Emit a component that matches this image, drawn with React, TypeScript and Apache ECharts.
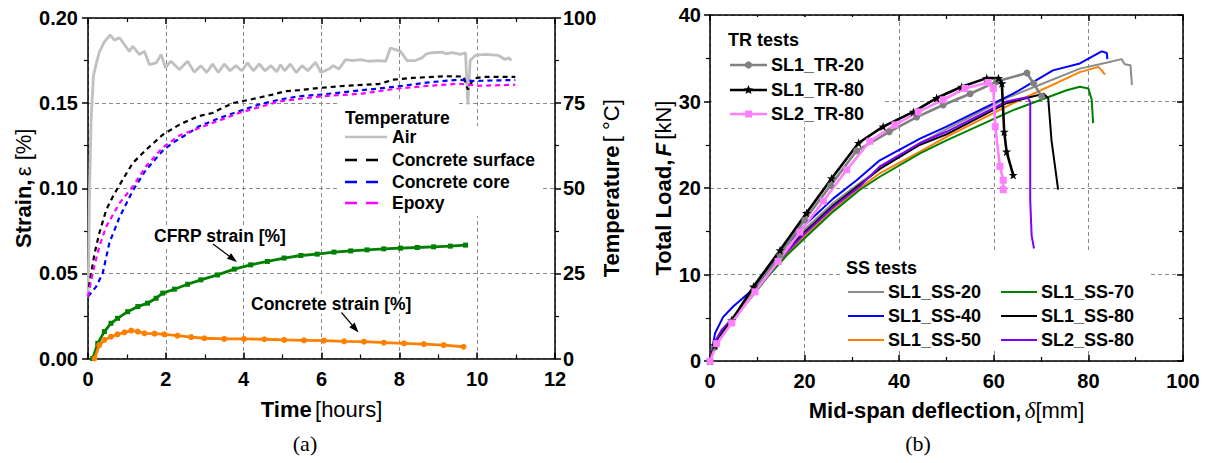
import React, { useEffect, useRef } from "react";
import * as echarts from "echarts";

const FONT = "'Liberation Sans', Arial, Helvetica, sans-serif";
const SERIF = "'Liberation Serif', 'Times New Roman', serif";

// ---------------- Panel (a) ----------------
const timeAxis = { min: 0, max: 12, interval: 2 };
const strainAxis = { min: 0, max: 0.2, interval: 0.05 };
const tempAxis = { min: 0, max: 100, interval: 25 };

// [hours, °C]
const airTemp = [
  [0, 18], [0.02, 30], [0.04, 50], [0.08, 70], [0.14, 83], [0.22, 87], [0.29, 90], [0.42, 93],
  [0.57, 95], [0.68, 93.5], [0.81, 94.2], [0.95, 92], [1.06, 90.2], [1.15, 91.7], [1.32, 89.3],
  [1.45, 90.2], [1.58, 86.3], [1.75, 86.8], [1.88, 89.3], [1.99, 85.4], [2.13, 87.3], [2.35, 84.9],
  [2.56, 87.3], [2.73, 84.1], [2.9, 86], [3.05, 84], [3.2, 86.5], [3.35, 84], [3.5, 86.5],
  [3.65, 84.5], [3.8, 86], [3.95, 84.5], [4.1, 86.8], [4.25, 84.5], [4.4, 86.5], [4.55, 84.5],
  [4.7, 86], [4.85, 84.2], [4.95, 86.3], [5.05, 84.5], [5.2, 86.5], [5.35, 84], [5.5, 86],
  [5.65, 84.5], [5.85, 87], [5.98, 84], [6.19, 85], [6.3, 86], [6.45, 85], [6.62, 87.8],
  [6.8, 87.5], [7.0, 87.8], [7.2, 87.3], [7.47, 87.5], [7.65, 87.3], [7.77, 91.2], [7.9, 90.7],
  [8.03, 90.2], [8.2, 87.5], [8.41, 87.5], [8.58, 88.3], [8.7, 89.5], [8.84, 89.8], [9.1, 90],
  [9.2, 89.5], [9.35, 89.8], [9.57, 89.3], [9.7, 89.8], [9.76, 74.6], [9.82, 87.5], [9.95, 89],
  [10.2, 89.3], [10.55, 89], [10.72, 87.8], [10.81, 88.3], [10.88, 87.5],
];
const surfaceTemp = [
  [0.02, 21], [0.17, 30.9], [0.29, 36.8], [0.47, 43.7], [0.64, 47.6], [0.89, 52.5], [1.15, 57.4],
  [1.49, 61.3], [1.92, 65.7], [2.35, 68.7], [2.82, 71.1], [3.2, 72.1], [3.37, 73.1], [3.72, 75],
  [4.23, 76.2], [4.74, 77.5], [5.08, 78.5], [5.42, 78.8], [5.98, 79.5], [6.62, 80.1], [7.47, 80.6],
  [7.86, 81.9], [8.33, 82.4], [9.18, 82.9], [9.65, 82.8], [9.76, 79], [9.91, 82.3], [10.21, 82.7],
  [10.98, 82.7],
];
const coreTemp = [
  [0, 18.2], [0.21, 21.1], [0.38, 25.1], [0.55, 34], [0.81, 41.5], [1.15, 49.3], [1.49, 55.4],
  [1.92, 61], [2.17, 63.3], [2.52, 65.7], [2.86, 68.2], [3.37, 70.6], [3.88, 72.6], [4.4, 74.6],
  [4.91, 76], [5.42, 77], [5.98, 77.5], [7.05, 78.8], [7.9, 79.8], [8.76, 81.1], [9.53, 81.9],
  [9.87, 81.5], [10.98, 81.8],
];
const epoxyTemp = [
  [0, 18.2], [0.12, 25.1], [0.29, 32.9], [0.47, 38.8], [0.81, 45.6], [1.15, 50.5], [1.49, 56.4],
  [1.92, 62], [2.35, 65.5], [2.86, 67.7], [3.88, 72.1], [4.91, 75.5], [5.98, 77], [7.05, 77.8],
  [7.9, 79.2], [8.76, 80.1], [9.53, 80.7], [10.04, 80.1], [10.98, 80.4],
];
// [hours, strain %]
const cfrpStrain = [
  [0.12, 0], [0.25, 0.0089], [0.42, 0.0158], [0.59, 0.0207], [0.76, 0.0236], [1.02, 0.0275],
  [1.28, 0.0305], [1.53, 0.0325], [1.75, 0.0354], [1.92, 0.0384], [2.22, 0.0407], [2.56, 0.0436],
  [2.9, 0.0462], [3.33, 0.0491], [3.76, 0.0525], [4.18, 0.055], [4.61, 0.057], [5.04, 0.059],
  [5.47, 0.0605], [5.89, 0.0613], [6.32, 0.0625], [6.75, 0.0632], [7.17, 0.0638], [7.6, 0.0644],
  [8.03, 0.0648], [8.46, 0.0652], [8.88, 0.0656], [9.31, 0.066], [9.7, 0.0666],
];
const concreteStrain = [
  [0.17, 0], [0.29, 0.0079], [0.42, 0.0109], [0.59, 0.0128], [0.76, 0.0142], [0.94, 0.0154],
  [1.11, 0.0164], [1.28, 0.0158], [1.45, 0.0148], [1.71, 0.0146], [1.96, 0.0142], [2.3, 0.0134],
  [2.65, 0.0126], [2.99, 0.0119], [3.5, 0.0115], [4.01, 0.0115], [4.53, 0.0113], [5.04, 0.0109],
  [5.55, 0.0107], [6.06, 0.0105], [6.58, 0.0101], [7.09, 0.0099], [7.6, 0.0093], [8.12, 0.0089],
  [8.63, 0.0085], [9.14, 0.0079], [9.65, 0.0069],
];

// ---------------- Panel (b) ----------------
const deflAxis = { min: 0, max: 100, interval: 20 };
const loadAxis = { min: 0, max: 40, interval: 10 };

// [mm, kN]
const sl1Tr20 = [
  [0, 0], [1, 1.6], [4.6, 4.6], [9.5, 8.3], [14.8, 12.3], [20, 16.3], [25.5, 20.3], [31, 24.3],
  [37.9, 26.5], [43.7, 28.2], [49.3, 29.6], [55, 30.9], [60.6, 32.3], [67, 33.3], [68.4, 32.1],
  [70.1, 30.6],
];
const sl1Tr80 = [
  [0, 0], [1, 1.8], [4.6, 4.7], [9.2, 8.6], [14.8, 12.8], [20.4, 17.1], [25.7, 21.1], [31.4, 25.2],
  [36.6, 27.1], [43, 28.8], [47.9, 30.4], [53.2, 31.7], [58.5, 32.7], [61, 32.7], [61.7, 32.1],
  [62.2, 26.5], [62.7, 24.2], [64.1, 21.5],
];
const sl2Tr80 = [
  [0, 0], [1.4, 2], [4.6, 4.4], [9.5, 8], [14.4, 11.5], [19, 14.9], [24, 18.5], [28.9, 22.1],
  [33.8, 25.4], [39.1, 27.3], [44, 28.8], [49.3, 30.2], [53.9, 31.5], [58.8, 32.2], [59.9, 31.5],
  [60.3, 27.1], [61.3, 22.5], [62, 20.9], [62, 19.8],
];
const sl1Ss20 = [
  [0, 0], [1, 2], [2.5, 3.6], [5, 5.2], [8.5, 7.6], [12, 10.1], [16.2, 12.9], [20.4, 15.4],
  [26.1, 18.3], [31.7, 20.6], [38, 23], [44.4, 25.2], [50, 26.8], [55, 28.2], [62.7, 30.4],
  [70, 32], [78.2, 33.8], [84, 34.5], [87, 34.9], [87.7, 34.3], [88.9, 34.2], [89.2, 31.9],
];
const sl1Ss40 = [
  [0, 0], [1.06, 3.2], [2.8, 5.1], [4.9, 6.3], [8.5, 8.0], [12, 10.5], [16.2, 13.4], [20.4, 15.9],
  [26.1, 18.8], [31, 20.9], [35.9, 23.2], [44.4, 25.7], [50, 27.1], [64.1, 30.9], [72.5, 33.6],
  [78.2, 34.4], [82.8, 35.8], [83.9, 35.6], [84, 34.9],
];
const sl1Ss50 = [
  [0, 0], [0.8, 2], [2.1, 3.2], [4.5, 4.6], [8.5, 7.2], [12, 9.7], [16.2, 12.4], [20.4, 14.6],
  [26.1, 17.6], [31.7, 20], [35.9, 21.7], [44.4, 24.2], [50, 25.9], [64.1, 29.8], [78.2, 33.4],
  [82.1, 34], [82.8, 33.6], [83.5, 33.1],
];
const sl1Ss70 = [
  [0, 0], [1, 1.8], [2.5, 3.3], [5, 4.9], [8.5, 7.2], [12, 9.6], [16.2, 12.2], [20.4, 14.4],
  [26.1, 17.3], [31.7, 19.8], [35.9, 21.3], [44.4, 24], [50, 25.5], [64.1, 29], [75.4, 31.3],
  [78.2, 31.7], [80, 31.5], [80.7, 30.2], [81, 27.5],
];
const sl1Ss80 = [
  [0, 0], [1, 2], [2.5, 3.5], [4.6, 4.7], [8.5, 7.5], [12, 10], [16.2, 12.8], [20.4, 15.1],
  [26.1, 18], [31.7, 20.4], [35.9, 22.2], [44.4, 25], [50, 26.2], [62.7, 29.8], [70.5, 30.9],
  [71.5, 30.4], [72.2, 25.5], [73.6, 19.8],
];
const sl2Ss80 = [
  [0, 0], [1, 2.2], [2.5, 3.6], [5, 5], [8.5, 7.4], [12, 10], [16.2, 12.6], [20.4, 14.9],
  [26.1, 17.8], [31.7, 20.2], [35.9, 22.5], [44.4, 25.2], [50, 26.5], [62.7, 30], [67, 30.5],
  [67.7, 30], [67.7, 18.6], [68, 14.5], [68.5, 13],
];

const STAR = "path://M0,-10 L2.35,-3.24 L9.51,-3.09 L3.8,1.24 L5.88,8.09 L0,4 L-5.88,8.09 L-3.8,1.24 L-9.51,-3.09 L-2.35,-3.24 Z";

const tempSeries = [
  { name: "Air", data: airTemp, color: "#c0c0c0", dashed: false },
  { name: "Concrete surface", data: surfaceTemp, color: "#000000", dashed: true },
  { name: "Concrete core", data: coreTemp, color: "#0000ff", dashed: true },
  { name: "Epoxy", data: epoxyTemp, color: "#ff00ff", dashed: true },
];
const trSeries = [
  { name: "SL1_TR-20", data: sl1Tr20, color: "#808080", symbol: "circle" },
  { name: "SL1_TR-80", data: sl1Tr80, color: "#000000", symbol: STAR },
  { name: "SL2_TR-80", data: sl2Tr80, color: "#ff80ff", symbol: "rect" },
];
const ssSeries = [
  { name: "SL1_SS-20", data: sl1Ss20, color: "#8c8c8c" },
  { name: "SL1_SS-40", data: sl1Ss40, color: "#0000ff" },
  { name: "SL1_SS-50", data: sl1Ss50, color: "#ff8000" },
  { name: "SL1_SS-70", data: sl1Ss70, color: "#008000" },
  { name: "SL1_SS-80", data: sl1Ss80, color: "#000000" },
  { name: "SL2_SS-80", data: sl2Ss80, color: "#8000ff" },
];

const tickLabel = { fontFamily: FONT, fontWeight: "bold" as const, fontSize: 20, color: "#000" };
const nameRich = {
  b: { fontFamily: FONT, fontWeight: "bold", fontSize: 22, color: "#000" },
  n: { fontFamily: FONT, fontWeight: "normal", fontSize: 22, color: "#000" },
  bi: { fontFamily: FONT, fontWeight: "bold", fontStyle: "italic", fontSize: 22, color: "#000" },
  i: { fontFamily: SERIF, fontStyle: "italic", fontSize: 23, color: "#000" },
};
const axisLine = { show: true, onZero: false, lineStyle: { color: "#000", width: 1.5 } };
const splitDash = { show: true, lineStyle: { color: "#8a8a8a", width: 1, type: [4, 3] } };

function xAx(grid: number, r: any, pos: string, extra: any) {
  return {
    type: "value", gridIndex: grid, min: r.min, max: r.max, interval: r.interval, position: pos,
    axisLine, axisTick: { show: true, inside: true, length: 6, lineStyle: { color: "#000", width: 1.5 } },
    minorTick: { show: true, splitNumber: 2, length: 4, lineStyle: { color: "#000", width: 1.2 } },
    axisLabel: { ...tickLabel, margin: 10 }, splitLine: splitDash, ...extra,
  };
}
function yAx(grid: number, r: any, pos: string, inside: boolean, extra: any) {
  return {
    type: "value", gridIndex: grid, min: r.min, max: r.max, interval: r.interval, position: pos,
    axisLine, axisTick: { show: true, inside, length: 6, lineStyle: { color: "#000", width: 1.5 } },
    minorTick: { show: true, splitNumber: 2, length: 4, lineStyle: { color: "#000", width: 1.2 } },
    axisLabel: { ...tickLabel, margin: 9 }, splitLine: splitDash, ...extra,
  };
}

function arrow(x1: number, y1: number, x2: number, y2: number) {
  const dx = x2 - x1, dy = y2 - y1;
  const L = Math.sqrt(dx * dx + dy * dy);
  const ux = dx / L, uy = dy / L;
  const bx = x2 - ux * 10, by = y2 - uy * 10;
  const nx = -uy, ny = ux;
  return [
    { type: "line", z: 20, shape: { x1, y1, x2: bx, y2: by }, style: { stroke: "#000", lineWidth: 1.2 } },
    {
      type: "polygon", z: 20,
      shape: { points: [[x2, y2], [bx + nx * 3.5, by + ny * 3.5], [bx - nx * 3.5, by - ny * 3.5]] },
      style: { fill: "#000" },
    },
  ];
}

function starPoints(cx: number, cy: number, R: number, r: number) {
  const pts: number[][] = [];
  for (let k = 0; k < 10; k++) {
    const a = -Math.PI / 2 + (k * Math.PI) / 5;
    const rad = k % 2 === 0 ? R : r;
    pts.push([cx + rad * Math.cos(a), cy + rad * Math.sin(a)]);
  }
  return pts;
}

function txt(x: number, y: number, text: string, font: string, extra: any = {}) {
  return {
    type: "text", z: 20, x, y,
    style: { text, font, fill: "#000", textAlign: "left", textVerticalAlign: "middle", ...extra },
  };
}

function buildOption() {
  const series: any[] = [];
  tempSeries.forEach((s) => {
    series.push({
      type: "line", name: s.name, xAxisIndex: 0, yAxisIndex: 1, data: s.data, showSymbol: false,
      symbol: "none", color: s.color, z: 3,
      lineStyle: { color: s.color, width: s.dashed ? 2.2 : 2.8, type: s.dashed ? [5, 4] : "solid" },
    });
  });
  series.push({
    type: "line", name: "CFRP strain [%]", xAxisIndex: 0, yAxisIndex: 0, data: cfrpStrain,
    symbol: "rect", symbolSize: 5, color: "#008000", z: 4,
    lineStyle: { color: "#008000", width: 2.8 }, itemStyle: { color: "#008000" },
  });
  series.push({
    type: "line", name: "Concrete strain [%]", xAxisIndex: 0, yAxisIndex: 0, data: concreteStrain,
    symbol: "circle", symbolSize: 6, color: "#ff8000", z: 4,
    lineStyle: { color: "#ff8000", width: 2.8 }, itemStyle: { color: "#ff8000" },
  });
  ssSeries.forEach((s) => {
    series.push({
      type: "line", name: s.name, xAxisIndex: 2, yAxisIndex: 2, data: s.data, showSymbol: false,
      symbol: "none", color: s.color, z: 3, lineStyle: { color: s.color, width: 2 },
    });
  });
  trSeries.forEach((s) => {
    series.push({
      type: "line", name: s.name, xAxisIndex: 2, yAxisIndex: 2, data: s.data, symbol: s.symbol,
      symbolSize: s.symbol === STAR ? 9 : 7, color: s.color, z: 4,
      lineStyle: { color: s.color, width: 2.6 }, itemStyle: { color: s.color },
    });
  });

  const g: any[] = [];
  // white legend / label backgrounds (hide grid lines)
  g.push({ type: "rect", z: 1, shape: { x: 338, y: 102, width: 120, height: 28 }, style: { fill: "#fff" } });
  g.push({ type: "rect", z: 1, shape: { x: 340, y: 126, width: 200, height: 90 }, style: { fill: "#fff" } });
  g.push({ type: "rect", z: 1, shape: { x: 712, y: 17, width: 172, height: 106 }, style: { fill: "#fff" } });
  g.push({ type: "rect", z: 1, shape: { x: 842, y: 251, width: 306, height: 100 }, style: { fill: "#fff" } });

  // Panel (a) legend
  g.push(txt(345, 118, "Temperature", `bold 17.5px ${FONT}`));
  const rowsA = [137, 160, 182, 203];
  tempSeries.forEach((s, k) => {
    g.push({
      type: "line", z: 20, shape: { x1: 345, y1: rowsA[k], x2: 387, y2: rowsA[k] },
      style: { stroke: s.color, lineWidth: 2.6, lineDash: s.dashed ? [12, 9] : null },
    });
    g.push(txt(392, rowsA[k], s.name, `bold 17.5px ${FONT}`));
  });

  // annotations
  g.push({
    type: "text", z: 1, x: 153, y: 236,
    style: { text: "CFRP strain [%]", font: `bold 17.5px ${FONT}`, fill: "#000", backgroundColor: "#fff",
      textAlign: "left", textVerticalAlign: "middle", padding: [1, 1] },
  });
  g.push({
    type: "text", z: 1, x: 250, y: 304,
    style: { text: "Concrete strain [%]", font: `bold 17.5px ${FONT}`, fill: "#000", backgroundColor: "#fff",
      textAlign: "left", textVerticalAlign: "middle", padding: [1, 1] },
  });
  g.push(...arrow(213, 244, 237, 262));
  g.push(...arrow(341.5, 312.5, 358.5, 332.5));

  // Panel (b) legends
  g.push(txt(728, 40, "TR tests", `bold 18px ${FONT}`));
  const rowsTR = [65, 90, 114];
  trSeries.forEach((s, k) => {
    const y = rowsTR[k];
    g.push({ type: "line", z: 20, shape: { x1: 730, y1: y, x2: 767, y2: y }, style: { stroke: s.color, lineWidth: 2.6 } });
    if (s.symbol === "circle") g.push({ type: "circle", z: 21, shape: { cx: 748.5, cy: y, r: 3.6 }, style: { fill: s.color } });
    else if (s.symbol === "rect") g.push({ type: "rect", z: 21, shape: { x: 745, y: y - 3.5, width: 7, height: 7 }, style: { fill: s.color } });
    else g.push({ type: "polygon", z: 21, shape: { points: starPoints(748.5, y, 5, 2.2) }, style: { fill: s.color } });
    g.push(txt(771, y, s.name, `bold 18px ${FONT}`));
  });
  g.push(txt(846, 268, "SS tests", `bold 18px ${FONT}`));
  const rowsSS = [292, 316, 340];
  ssSeries.forEach((s, k) => {
    const col = Math.floor(k / 3), row = k % 3;
    const lx = col === 0 ? 848 : 1001;
    const y = rowsSS[row];
    g.push({ type: "line", z: 20, shape: { x1: lx, y1: y, x2: lx + 36, y2: y }, style: { stroke: s.color, lineWidth: 2 } });
    g.push(txt(lx + 40, y, s.name, `bold 18px ${FONT}`));
  });

  // captions
  g.push({ type: "text", z: 20, x: 305, y: 443, style: { text: "(a)", font: `22px ${SERIF}`, fill: "#000", textAlign: "center", textVerticalAlign: "middle" } });
  g.push({ type: "text", z: 20, x: 918, y: 443, style: { text: "(b)", font: `22px ${SERIF}`, fill: "#000", textAlign: "center", textVerticalAlign: "middle" } });

  return {
    animation: false,
    backgroundColor: "#fff",
    grid: [
      { left: 88, top: 18, width: 467, height: 340.5, containLabel: false },
      { left: 710, top: 15, width: 473, height: 346, containLabel: false },
    ],
    xAxis: [
      xAx(0, timeAxis, "bottom", {
        name: "{b|Time} {n|[hours]}", nameLocation: "middle", nameGap: 40, nameTextStyle: { rich: nameRich },
      }),
      xAx(0, timeAxis, "top", { axisLabel: { show: false }, splitLine: { show: false } }),
      xAx(1, deflAxis, "bottom", {
        name: "{b|Mid-span deflection,} {i|δ}{n|[mm]}", nameLocation: "middle", nameGap: 38,
        nameTextStyle: { rich: nameRich },
      }),
      xAx(1, deflAxis, "top", { axisLabel: { show: false }, splitLine: { show: false } }),
    ],
    yAxis: [
      yAx(0, strainAxis, "left", false, {
        axisLabel: { ...tickLabel, margin: 10, formatter: (v: number) => v.toFixed(2) },
        name: "{b|Strain,} {n|ε [%]}", nameLocation: "middle", nameGap: 54, nameRotate: 90,
        nameTextStyle: { rich: nameRich },
      }),
      yAx(0, tempAxis, "right", false, {
        axisLabel: { ...tickLabel, margin: 8 }, splitLine: { show: false },
        name: "{b|Temperature} {n|[ °C]}", nameLocation: "middle", nameGap: 28, nameRotate: 90,
        nameTextStyle: { rich: nameRich },
      }),
      yAx(1, loadAxis, "left", false, {
        name: "{b|Total Load,} {bi|F} {n|[kN]}", nameLocation: "middle", nameGap: 35, nameRotate: 90,
        nameTextStyle: { rich: nameRich },
      }),
      yAx(1, loadAxis, "right", true, { axisLabel: { show: false }, splitLine: { show: false } }),
    ],
    series,
    graphic: { elements: g },
  };
}

export default function App() {
  const ref = useRef<HTMLDivElement>(null);
  useEffect(() => {
    if (!ref.current) return;
    const chart = echarts.init(ref.current, null, { renderer: "svg" });
    chart.setOption(buildOption() as any);
    return () => chart.dispose();
  }, []);
  return (
    <div
      ref={ref}
      style={{ position: "absolute", left: 0, top: 0, width: 1209, height: 463, background: "#fff" }}
    />
  );
}
